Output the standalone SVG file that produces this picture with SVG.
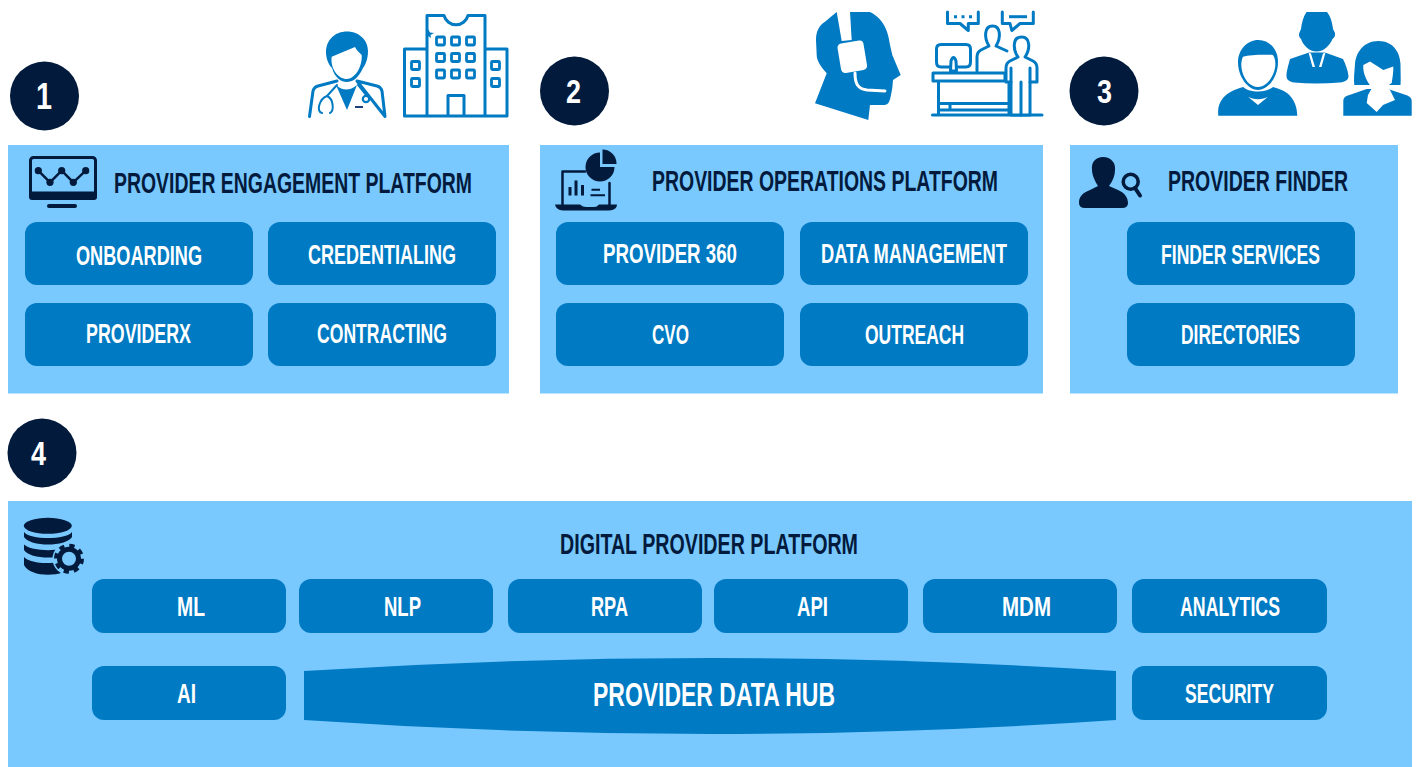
<svg xmlns="http://www.w3.org/2000/svg" width="1418" height="767" viewBox="0 0 1418 767">
<style>
.panel{fill:#79c9ff}
.btn{fill:#007ac3}
.badge{fill:#021a3c}
.dark{fill:#021a3c}
.blue{fill:#007ac3}
.wh{fill:#fff}
.ol{fill:none;stroke:#007ac3;stroke-width:3;stroke-linejoin:round;stroke-linecap:round}
.olw{fill:#fff;stroke:#007ac3;stroke-width:3;stroke-linejoin:round;stroke-linecap:round}
.dl{fill:none;stroke:#021a3c;stroke-linejoin:round;stroke-linecap:round}
text{font-family:"Liberation Sans Narrow","Liberation Sans",sans-serif;font-weight:700}
.t{fill:#021a3c;font-size:29px}
.l{fill:#fff;font-size:28px}
.n{fill:#fff;font-size:33px}
</style>
<rect width="1418" height="767" fill="#fff"/>

<g id="panel-1">
<rect class="panel" x="8" y="145" width="501" height="248.500"/>
<text class="t" x="114" y="193" textLength="358" lengthAdjust="spacingAndGlyphs">PROVIDER ENGAGEMENT PLATFORM</text>
</g>
<g id="panel-2">
<rect class="panel" x="540" y="145" width="503" height="248.500"/>
<text class="t" x="652" y="191" textLength="346" lengthAdjust="spacingAndGlyphs">PROVIDER OPERATIONS PLATFORM</text>
</g>
<g id="panel-3">
<rect class="panel" x="1070" y="145" width="328" height="248.500"/>
<text class="t" x="1168" y="191" textLength="180" lengthAdjust="spacingAndGlyphs">PROVIDER FINDER</text>
</g>
<g id="panel-4">
<rect class="panel" x="8" y="501" width="1404" height="266"/>
<text class="t" x="560" y="554" textLength="298" lengthAdjust="spacingAndGlyphs">DIGITAL PROVIDER PLATFORM</text>
</g>

<g id="badge-1"><circle class="badge" cx="44.500" cy="96" r="34.500"/><text class="n" x="36" y="109" textLength="16" lengthAdjust="spacingAndGlyphs" style="font-size:36px">1</text></g>
<g id="badge-2"><circle class="badge" cx="574.500" cy="91" r="34.500"/><text class="n" x="566" y="103" textLength="15" lengthAdjust="spacingAndGlyphs">2</text></g>
<g id="badge-3"><circle class="badge" cx="1104" cy="91" r="34.500"/><text class="n" x="1097" y="103" textLength="15" lengthAdjust="spacingAndGlyphs">3</text></g>
<g id="badge-4"><circle class="badge" cx="42" cy="453" r="34.500"/><text class="n" x="31" y="465" textLength="15" lengthAdjust="spacingAndGlyphs">4</text></g>

<g id="onboarding"><rect class="btn" x="25" y="222" width="228" height="63" rx="12"/><text class="l" x="76" y="265" textLength="126" lengthAdjust="spacingAndGlyphs">ONBOARDING</text></g>
<g id="credentialing"><rect class="btn" x="268" y="222" width="228" height="63" rx="12"/><text class="l" x="308" y="264" textLength="148" lengthAdjust="spacingAndGlyphs">CREDENTIALING</text></g>
<g id="providerx"><rect class="btn" x="25" y="303" width="228" height="63" rx="12"/><text class="l" x="86" y="343" textLength="105" lengthAdjust="spacingAndGlyphs">PROVIDERX</text></g>
<g id="contracting"><rect class="btn" x="268" y="303" width="228" height="63" rx="12"/><text class="l" x="317" y="343" textLength="130" lengthAdjust="spacingAndGlyphs">CONTRACTING</text></g>

<g id="provider-360"><rect class="btn" x="556" y="222" width="228" height="63" rx="12"/><text class="l" x="603" y="263" textLength="134" lengthAdjust="spacingAndGlyphs">PROVIDER 360</text></g>
<g id="data-management"><rect class="btn" x="800" y="222" width="228" height="63" rx="12"/><text class="l" x="821" y="263" textLength="186" lengthAdjust="spacingAndGlyphs">DATA MANAGEMENT</text></g>
<g id="cvo"><rect class="btn" x="556" y="303" width="228" height="63" rx="12"/><text class="l" x="652" y="344" textLength="37" lengthAdjust="spacingAndGlyphs">CVO</text></g>
<g id="outreach"><rect class="btn" x="800" y="303" width="228" height="63" rx="12"/><text class="l" x="865" y="344" textLength="99" lengthAdjust="spacingAndGlyphs">OUTREACH</text></g>

<g id="finder-services"><rect class="btn" x="1127" y="222" width="228" height="63" rx="12"/><text class="l" x="1161" y="264" textLength="159" lengthAdjust="spacingAndGlyphs">FINDER SERVICES</text></g>
<g id="directories"><rect class="btn" x="1127" y="303" width="228" height="63" rx="12"/><text class="l" x="1181" y="344" textLength="119" lengthAdjust="spacingAndGlyphs">DIRECTORIES</text></g>

<g id="ml"><rect class="btn" x="92" y="579" width="194" height="54" rx="12"/><text class="l" x="177" y="616" textLength="28" lengthAdjust="spacingAndGlyphs">ML</text></g>
<g id="nlp"><rect class="btn" x="299" y="579" width="194" height="54" rx="12"/><text class="l" x="384" y="616" textLength="37" lengthAdjust="spacingAndGlyphs">NLP</text></g>
<g id="rpa"><rect class="btn" x="508" y="579" width="194" height="54" rx="12"/><text class="l" x="591" y="616" textLength="37" lengthAdjust="spacingAndGlyphs">RPA</text></g>
<g id="api"><rect class="btn" x="714" y="579" width="194" height="54" rx="12"/><text class="l" x="797" y="616" textLength="31" lengthAdjust="spacingAndGlyphs">API</text></g>
<g id="mdm"><rect class="btn" x="923" y="579" width="194" height="54" rx="12"/><text class="l" x="1002" y="616" textLength="49" lengthAdjust="spacingAndGlyphs">MDM</text></g>
<g id="analytics"><rect class="btn" x="1132" y="579" width="195" height="54" rx="12"/><text class="l" x="1180" y="616" textLength="100" lengthAdjust="spacingAndGlyphs">ANALYTICS</text></g>
<g id="ai"><rect class="btn" x="92" y="666" width="194" height="54" rx="12"/><text class="l" x="177" y="703" textLength="19" lengthAdjust="spacingAndGlyphs">AI</text></g>
<g id="security"><rect class="btn" x="1132" y="666" width="195" height="54" rx="12"/><text class="l" x="1185" y="703" textLength="89" lengthAdjust="spacingAndGlyphs">SECURITY</text></g>
<g id="data-hub"><path class="btn" d="M304 671Q710 645 1116 671V720Q710 748 304 720Z"/><text class="l" x="593" y="706" textLength="242" lengthAdjust="spacingAndGlyphs" style="font-size:34px">PROVIDER DATA HUB</text></g>

<g id="icon-doctor">
<path class="ol" d="M309.500 116.500L313 91Q314 87 318 86L337 81M357 81L377 86Q381 87 382 91L385 116.500Z"/>
<path class="blue" d="M336 85Q346 94 357 85L347 110Z"/>
<path class="blue" d="M347 31.500C359 31.500 368 40 368 51C368 58 366 64 363 68C358 79 352 82 347 82C341 82 335 78 332 68C328 64 326 58 326 52C326 40 335 31.500 347 31.500Z"/>
<path class="wh" d="M331.700 56.700L355 47C357 51 360 53 361.700 55C362.500 68 354 79 347 79C338 79 330 68 331.700 56.700Z"/>
<path class="ol" style="stroke-width:2" d="M337 85L327 96M327 96C319 99 316 112 322 113M327 96C334 99 334 111 330 113M358 85L366 95"/>
<circle class="ol" style="stroke-width:2.200" cx="366" cy="99" r="3.200"/>
<path d="M355 107H363" stroke="#1f3f7a" stroke-width="2"/>
</g>

<g id="icon-hospital">
<path class="ol" d="M427 116V15.500H444A12.500 13 0 0 0 468 15.500H485V116M427 49H404.500V116H507V49H485M448 116V95.500H464V116"/>
<path class="blue" d="M428 29L430 32.500L434 33L430.500 35L431 38L428 36Z"/>
<g class="ol" style="stroke-width:2.800">
<rect x="436.500" y="37" width="8" height="8" rx="1"/><rect x="451.500" y="37" width="8" height="8" rx="1"/><rect x="466.500" y="37" width="8" height="8" rx="1"/>
<rect x="436.500" y="53.500" width="8" height="8" rx="1"/><rect x="451.500" y="53.500" width="8" height="8" rx="1"/><rect x="466.500" y="53.500" width="8" height="8" rx="1"/>
<rect x="436.500" y="70" width="8" height="8" rx="1"/><rect x="451.500" y="70" width="8" height="8" rx="1"/><rect x="466.500" y="70" width="8" height="8" rx="1"/>
<rect x="411.500" y="61.500" width="8" height="8" rx="1"/><rect x="411.500" y="78.500" width="8" height="8" rx="1"/>
<rect x="491.500" y="61.500" width="8" height="8" rx="1"/><rect x="491.500" y="78.500" width="8" height="8" rx="1"/>
</g>
</g>

<g id="icon-agent">
<path class="blue" d="M836.700 12H870C878 16 882 21 885 27C888 33 889 39 890 45L892.300 55L900.700 75L893 80L892.300 88L891 95C890 100 889 105 884 105H870L868.300 120L815 103.300L826.700 73.300C820 66 816.700 60 816.700 55L816 40C816 30 820 25 825 21.700Z"/>
<path class="wh" d="M836.700 12H850L851.700 40L841.700 41Z"/>
<path class="wh" d="M841 43.500L859 40.500Q863 40 863.500 44L867 65Q867.500 69 863.500 70L846 73Q842 73.500 841 69L837.500 48Q837.500 44 841 43.500Z"/>
<path d="M855 73C855 84 858 89 867 90L885 91" fill="none" stroke="#fff" stroke-width="3" stroke-linecap="round"/>
</g>

<g id="icon-reception">
<path class="ol" d="M932.500 115H1042M933 73H1005V81H933ZM938.500 81V115M1009 81V115M938.500 103.500H1009M938.500 110H1009M950 104V110"/>
<path class="ol" d="M951 67H941Q936.500 67 936.500 62V49Q936.500 44.500 941 44.500H966Q970.500 44.500 970.500 49V62Q970.500 67 966 67H957"/>
<path class="ol" style="fill:#fff" d="M950.500 71L951 61Q953.500 54 956 61L956.500 71Z"/>
<path class="ol" d="M977 71V57Q977 52 981 50L989 46C984 38 984 26 992.500 26C1001 26 1001 38 996 46L1007 51"/>
<path class="olw" d="M1011 115V82H1006V68Q1006 63 1010 61L1018 57C1013 50 1012 37 1021.500 37C1031 37 1030 50 1025 57L1033 61Q1037 63 1037 68V82H1030V115Z"/>
<path class="ol" d="M1021 82V115M1011 82V68M1030 82V68"/>
<path class="ol" d="M947.500 12V23.500H960L968.300 30.500V23.500H978.300V12M1002.300 12V23.500H1010L1011.800 30.500L1020 23.500H1033.300V12"/>
<path d="M1009 16.700H1027" stroke="#007ac3" stroke-width="3"/>
<path d="M954 16.700H972" stroke="#007ac3" stroke-width="3" stroke-dasharray="3 4.500"/>
</g>

<g id="icon-people">
<path class="blue" d="M1218.300 115.700C1217.500 108 1219 103 1223 98C1228 92 1236 89 1243.300 87C1249 93 1267 93 1273 87C1279 89 1287 91 1291 97C1296 103 1297 110 1297.300 115.700Z"/>
<path class="wh" d="M1248 96.700C1253 100 1263 100 1268 96.700L1258 105Z"/>
<path class="blue" d="M1258.300 40C1270 40 1278 50 1278 62C1278 77 1268 90 1258 90C1248 90 1238 77 1238 62C1238 50 1247 40 1258.300 40Z"/>
<path class="wh" d="M1243 56.700C1250 54.500 1266 54.500 1273 55C1276 60 1275.500 65 1275 68C1273 78 1266 87 1258 87C1250 87 1243 79 1241.500 68C1241 63 1241.500 60 1243 56.700Z"/>

<path class="blue" d="M1306.500 12H1327C1331 17 1332.500 24 1333 29L1335 33C1335.500 36 1334 38 1332.500 39C1330 45 1324 51.500 1316.700 51.500C1309 51.500 1303 45 1301 39C1299 37 1298.500 35 1299.300 33L1301 29C1301.500 24 1303 17 1306.500 12Z"/>
<path class="blue" d="M1309 52.500L1290 59C1288 67 1286.500 71 1286.500 76C1286.500 80 1290 82 1294 82.500Q1316 84.500 1340 82.500C1345 82 1348.500 80 1348.500 76C1348 71 1346 65 1343 59L1325 52.500Z"/>
<path class="wh" d="M1308.500 52.500L1311 53.500L1315 67L1312.500 67ZM1325.500 52.500L1323 53.500L1319 67L1321.500 67Z"/>

<path class="blue" d="M1343.300 115.700V101C1343.300 98 1345 96.500 1348 95.500L1366.700 89H1388L1406 95C1410 96.500 1411.700 98 1411.700 101V115.700Z"/>
<path class="blue" d="M1378.300 41C1393 41 1400 52 1400.500 64C1400.500 72 1401 80 1400.500 85H1354.300C1353.500 78 1354.500 72 1355 64C1356 52 1364 41 1378.300 41Z"/>
<path class="wh" d="M1363.300 65L1370 61.500L1383.300 70L1393.300 66.500C1393.500 72 1392.500 78 1391.700 83L1386.700 86.500L1390 90L1395 100L1383 105L1376.700 112L1366.700 103L1368 95L1372 88C1368 83 1362.500 74 1363.300 65Z"/>
</g>

<g id="icon-monitor">
<rect x="30.500" y="157.500" width="65" height="40" rx="3" fill="none" stroke="#021a3c" stroke-width="3"/>
<rect class="dark" x="29" y="191.500" width="68" height="8.500" rx="3"/>
<rect class="dark" x="47" y="204" width="30" height="4" rx="2"/>
<path class="dl" d="M38.300 170.700L50 182.300L61.700 170.700L73.300 182.300L85.700 170.700" style="stroke-width:2.500"/>
<g class="dark"><circle cx="38.300" cy="170.700" r="3.600"/><circle cx="50" cy="182.300" r="3.600"/><circle cx="61.700" cy="170.700" r="3.600"/><circle cx="73.300" cy="182.300" r="3.600"/><circle cx="85.700" cy="170.700" r="3.600"/></g>
</g>

<g id="icon-laptop">
<path class="dl" d="M585 171.500H562.500V205M609.500 183V205" style="stroke-width:2.500"/>
<path class="dark" d="M555 204.500H580Q583 207 586 207H594Q597 207 599 204.500H617Q617 210 609 210.500H563Q556 210 555 204.500Z"/>
<path class="dark" d="M600 152.500V167H614.500A14.500 14.500 0 1 1 600 152.500Z"/>
<path class="dark" d="M602.500 149.500A14 14 0 0 1 616.500 164H602.500Z"/>
<path class="dark" d="M568.500 187h3v8.500h-3zM574.500 180.500h3v15h-3zM581 185h3v10.500h-3zM591.500 188.700h8.500v2h-8.500zM590.500 194.300h14.500v2h-14.500z"/>
</g>

<g id="icon-finder">
<path class="dark" d="M1079 203C1079 197 1082 193 1090 190L1098 186C1094 180 1092 174 1092 170C1091 162 1096 157 1103 157C1111 157 1116 163 1115 170C1115 175 1113 181 1109 186L1118 190C1125 193 1128 198 1128 203Q1128 208 1122 208H1085Q1079 208 1079 203Z"/>
<circle cx="1130.700" cy="181.700" r="7.500" fill="none" stroke="#021a3c" stroke-width="3.500"/>
<path d="M1135 188L1140 195.500" stroke="#021a3c" stroke-width="4" stroke-linecap="round"/>
</g>

<g id="icon-database">
<ellipse class="dark" cx="47.800" cy="525.800" rx="24" ry="8"/>
<path class="dark" d="M24 532C30 540 66 540 72 532V537C66 547 30 547 24 537Z"/>
<path class="dark" d="M24 544.500C32 552 64 552 72 544.500V550C66 560 30 560 24 550Z"/>
<path class="dark" d="M24 557C32 565 60 565 72 557V565C66 578 30 578 24 565Z"/>
<circle class="panel" cx="69" cy="558.700" r="16.500"/>
<circle cx="69" cy="558.700" r="9.500" fill="none" stroke="#021a3c" stroke-width="5"/>
<circle cx="69" cy="558.700" r="13" fill="none" stroke="#021a3c" stroke-width="4" stroke-dasharray="5.200 5"/>
</g>
</svg>
